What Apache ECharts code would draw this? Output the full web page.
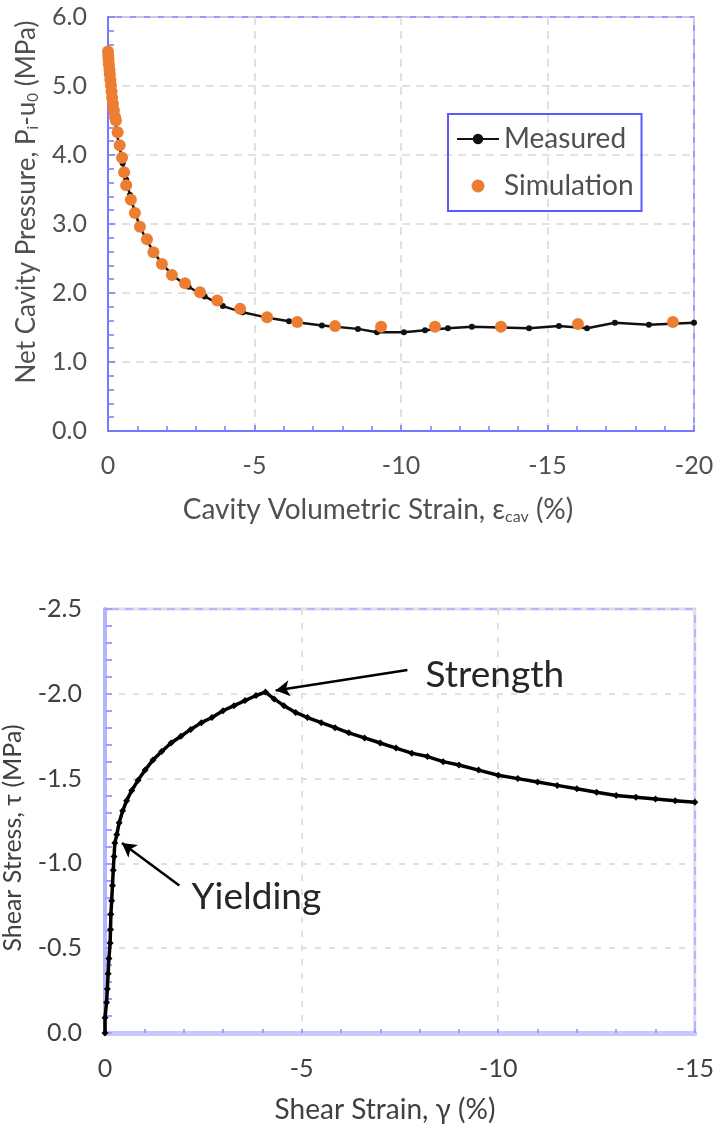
<!DOCTYPE html>
<html>
<head>
<meta charset="utf-8">
<script src="https://cdn.jsdelivr.net/npm/echarts@6/dist/echarts.min.js"></script>
<style>
  html, body { margin: 0; padding: 0; background: #fff; }
  #chart { width: 717px; height: 1129px; }
</style>
</head>
<body>
<div id="chart"></div>
<script>
// top chart: cavity volumetric strain (%) vs net cavity pressure (MPa)
var measured = [
  [0, 5.50], [-0.05, 5.28], [-0.10, 5.03], [-0.15, 4.80], [-0.22, 4.56], [-0.30, 4.32],
  [-0.40, 4.10], [-0.50, 3.88], [-0.62, 3.64], [-0.75, 3.42], [-0.90, 3.20], [-1.08, 2.97],
  [-1.30, 2.78], [-1.55, 2.60], [-1.85, 2.42], [-2.25, 2.24], [-2.75, 2.09], [-3.30, 1.95],
  [-3.92, 1.81], [-4.60, 1.72], [-5.35, 1.65], [-6.18, 1.59], [-7.30, 1.53], [-8.53, 1.48],
  [-9.18, 1.43], [-10.10, 1.43], [-10.82, 1.46], [-11.60, 1.49], [-12.42, 1.51], [-14.37, 1.49],
  [-15.39, 1.52], [-16.35, 1.49], [-17.30, 1.57], [-18.46, 1.54], [-20.00, 1.57]
];
var simulation = [
  [0, 5.50], [-0.01, 5.44], [-0.02, 5.38], [-0.03, 5.31], [-0.05, 5.24], [-0.06, 5.17],
  [-0.08, 5.09], [-0.10, 5.01], [-0.12, 4.92], [-0.14, 4.83], [-0.17, 4.74], [-0.20, 4.65],
  [-0.24, 4.55], [-0.27, 4.50], [-0.33, 4.33], [-0.40, 4.14], [-0.48, 3.96], [-0.55, 3.75],
  [-0.62, 3.56], [-0.78, 3.35], [-0.92, 3.16], [-1.09, 2.96], [-1.33, 2.78], [-1.55, 2.59],
  [-1.84, 2.42], [-2.18, 2.26], [-2.63, 2.14], [-3.14, 2.01], [-3.73, 1.89], [-4.51, 1.77],
  [-5.43, 1.65], [-6.46, 1.58], [-7.75, 1.52], [-9.32, 1.51], [-11.16, 1.51], [-13.41, 1.51],
  [-16.04, 1.55], [-19.28, 1.58]
];

// bottom chart: shear strain (%) vs shear stress (MPa)
var shear = [
  [0, 0], [0, -0.09], [-0.04, -0.18], [-0.06, -0.26], [-0.08, -0.35], [-0.10, -0.44],
  [-0.13, -0.53], [-0.14, -0.61], [-0.15, -0.70], [-0.17, -0.78], [-0.19, -0.87], [-0.21, -0.96],
  [-0.23, -1.04], [-0.25, -1.12], [-0.30, -1.17], [-0.36, -1.24], [-0.45, -1.31], [-0.55, -1.37],
  [-0.68, -1.43], [-0.84, -1.49], [-1.02, -1.55], [-1.22, -1.61], [-1.44, -1.66], [-1.68, -1.71],
  [-1.93, -1.75], [-2.18, -1.79], [-2.45, -1.83], [-2.72, -1.86], [-3.00, -1.90], [-3.28, -1.93],
  [-3.56, -1.96], [-3.84, -1.99], [-4.08, -2.01], [-4.30, -1.97], [-4.55, -1.93], [-4.85, -1.89],
  [-5.15, -1.86], [-5.50, -1.83], [-5.85, -1.80], [-6.20, -1.77], [-6.60, -1.74], [-7.00, -1.71],
  [-7.40, -1.68], [-7.80, -1.65], [-8.20, -1.63], [-8.60, -1.60], [-9.00, -1.58], [-9.50, -1.55],
  [-10.00, -1.52], [-10.50, -1.50], [-11.00, -1.48], [-11.50, -1.46], [-12.00, -1.44], [-12.50, -1.42],
  [-13.00, -1.40], [-13.50, -1.39], [-14.00, -1.38], [-14.50, -1.37], [-15.00, -1.36]
];
var strengthArrow = [[-7.69, -2.14], [-4.34, -2.02]];
var yieldArrow = [[-1.89, -0.87], [-0.43, -1.12]];
var strengthText = [-8.15, -2.11];
var yieldText = [-2.2, -0.80];

var FONT = 'Lato';
var topAxisColor = '#7878ff';
var topText = '#505050';
var gridDash = { color: '#d9d9d9', width: 1.5, type: [8, 6] };

var chart = echarts.init(document.getElementById('chart'));

function fix1(v) { return v.toFixed(1); }

var option = {
  animation: false,
  textStyle: { fontFamily: FONT },
  grid: [
    { left: 108, top: 17, width: 586, height: 414, show: true, borderColor: topAxisColor, borderWidth: 1.5 },
    { left: 105, top: 609, width: 595, height: 424, show: true, borderColor: '#b4b4ff', borderWidth: 2.5 }
  ],
  legend: {
    data: ['Measured', 'Simulation'],
    orient: 'vertical',
    left: 448, top: 114,
    padding: [11, 8, 11, 8],
    itemWidth: 42, itemHeight: 13, itemGap: 19,
    borderColor: '#5a5aff', borderWidth: 2,
    selectedMode: false,
    textStyle: { fontFamily: FONT, fontSize: 28, color: topText }
  },
  xAxis: [
    {
      gridIndex: 0, type: 'value', min: -20, max: 0, interval: 5, inverse: true,
      axisLine: { lineStyle: { color: topAxisColor, width: 2 } },
      axisTick: { show: true, inside: true, length: 6, lineStyle: { color: topAxisColor, width: 1.5 } },
      minorTick: { show: true, splitNumber: 5, length: 5, lineStyle: { color: topAxisColor, width: 1.5 } },
      splitLine: { show: true, lineStyle: gridDash },
      axisLabel: { margin: 22, fontSize: 25, color: topText, fontFamily: FONT }
    },
    {
      gridIndex: 1, type: 'value', min: -15, max: 0, interval: 5, inverse: true,
      axisLine: { lineStyle: { color: '#c8c8ff', width: 5 } },
      axisTick: { show: true, inside: true, length: 4, lineStyle: { color: '#8c8cff', width: 1.5 } },
      minorTick: { show: true, splitNumber: 5, length: 4, lineStyle: { color: '#8c8cff', width: 1.5 } },
      splitLine: { show: true, lineStyle: { color: '#e0e0e0', width: 2, type: [6, 8] } },
      axisLabel: { margin: 23, fontSize: 25, color: '#404040', fontFamily: FONT }
    }
  ],
  yAxis: [
    {
      gridIndex: 0, type: 'value', min: 0, max: 6, interval: 1,
      axisLine: { show: true, lineStyle: { color: topAxisColor, width: 2 } },
      axisTick: { show: true, inside: true, length: 7, lineStyle: { color: topAxisColor, width: 1.5 } },
      minorTick: { show: true, splitNumber: 5, length: 6, lineStyle: { color: topAxisColor, width: 1.5 } },
      splitLine: { show: true, lineStyle: gridDash },
      axisLabel: { margin: 21, fontSize: 25, color: topText, fontFamily: FONT, formatter: fix1 }
    },
    {
      gridIndex: 1, type: 'value', min: -2.5, max: 0, interval: 0.5, inverse: true,
      axisLine: { show: true, lineStyle: { color: '#b4b4ff', width: 4 } },
      axisTick: { show: true, inside: true, length: 7, lineStyle: { color: '#a0a0ff', width: 2 } },
      minorTick: { show: true, splitNumber: 5, length: 7, lineStyle: { color: '#a0a0ff', width: 2 } },
      splitLine: { show: true, lineStyle: { color: '#e0e0e0', width: 2, type: [6, 8] } },
      axisLabel: { margin: 23, fontSize: 25, color: '#404040', fontFamily: FONT, formatter: fix1 }
    }
  ],
  series: [
    {
      name: 'Measured', type: 'line', xAxisIndex: 0, yAxisIndex: 0,
      data: measured,
      symbol: 'circle', symbolSize: 6, showSymbol: true,
      itemStyle: { color: '#111' },
      lineStyle: { color: '#111', width: 2.5 },
      z: 3
    },
    {
      name: 'Simulation', type: 'scatter', xAxisIndex: 0, yAxisIndex: 0,
      data: simulation,
      symbol: 'circle', symbolSize: 12,
      itemStyle: { color: '#ed7d31', opacity: 1 },
      z: 4
    },
    {
      name: 'Shear', type: 'line', xAxisIndex: 1, yAxisIndex: 1,
      data: shear,
      symbol: 'diamond', symbolSize: 7, showSymbol: true,
      itemStyle: { color: '#000' },
      lineStyle: { color: '#000', width: 3.5 },
      z: 3,
      markLine: {
        silent: true,
        symbol: ['none', 'arrow'],
        symbolSize: [12, 14],
        lineStyle: { color: '#000', width: 2.5, type: 'solid' },
        label: { show: false },
        data: [
          [{ coord: strengthArrow[0] }, { coord: strengthArrow[1] }],
          [{ coord: yieldArrow[0] }, { coord: yieldArrow[1] }]
        ]
      },
      markPoint: {
        silent: true,
        symbol: 'circle', symbolSize: 0,
        label: { show: true, position: 'right', distance: 0, fontFamily: FONT, fontSize: 37, color: '#262626' },
        data: [
          { coord: strengthText, label: { formatter: 'Strength' } },
          { coord: yieldText, label: { formatter: 'Yielding' } }
        ]
      }
    }
  ],
  graphic: [
    {
      type: 'text', x: 378, y: 510,
      style: {
        text: 'Cavity Volumetric Strain, ε{sub|cav} (%)',
        font: '28px ' + FONT, fill: topText, align: 'center', verticalAlign: 'middle',
        rich: { sub: { fontSize: 16, fontFamily: FONT, fill: topText, padding: [14, 0, 0, 0] } }
      }
    },
    {
      type: 'text', x: 27, y: 202, rotation: Math.PI / 2,
      style: {
        text: 'Net Cavity Pressure, P{sub|i}-u{sub|0} (MPa)',
        font: '26px ' + FONT, fill: topText, align: 'center', verticalAlign: 'middle',
        rich: { sub: { fontSize: 15, fontFamily: FONT, fill: topText, padding: [13, 0, 0, 0] } }
      }
    },
    {
      type: 'text', x: 385, y: 1110,
      style: {
        text: 'Shear Strain, γ (%)',
        font: '28px ' + FONT, fill: '#404040', align: 'center', verticalAlign: 'middle'
      }
    },
    {
      type: 'text', x: 13, y: 838, rotation: Math.PI / 2,
      style: {
        text: 'Shear Stress, τ (MPa)',
        font: '25px ' + FONT, fill: '#404040', align: 'center', verticalAlign: 'middle'
      }
    }
  ]
};

chart.setOption(option);
</script>
</body>
</html>
